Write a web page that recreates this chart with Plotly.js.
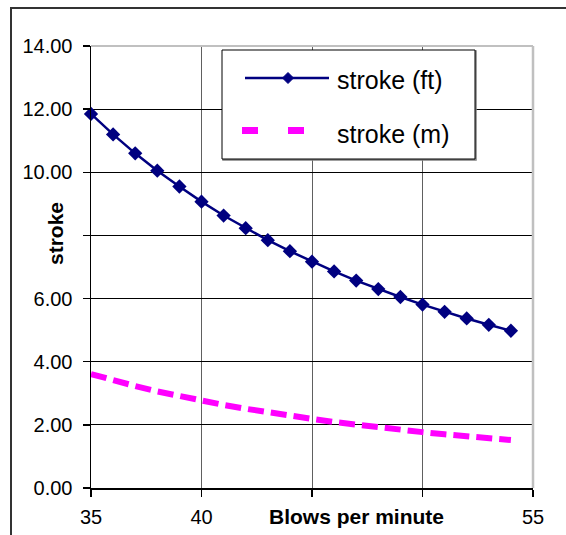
<!DOCTYPE html>
<html>
<head>
<meta charset="utf-8">
<script src="https://cdn.plot.ly/plotly-3.0.1.min.js"></script>
<style>
html,body{margin:0;padding:0;background:#fff;}
#chart{width:566px;height:535px;}
</style>
</head>
<body>
<div id="chart"></div>
<script>
// Data
const blowsPerMinute = [35,36,37,38,39,40,41,42,43,44,45,46,47,48,49,50,51,52,53,54];
const strokeFt = [11.85,11.20,10.60,10.05,9.55,9.07,8.63,8.23,7.85,7.50,7.17,6.86,6.57,6.30,6.05,5.81,5.58,5.37,5.17,4.98];
const strokeM  = [3.61,3.41,3.23,3.06,2.91,2.76,2.63,2.51,2.39,2.29,2.19,2.09,2.00,1.92,1.84,1.77,1.70,1.64,1.58,1.52];
const seriesNames = ["stroke (ft)", "stroke (m)"];
const xTickVals = [35,40,45,50,55];
const xTickText = ["35","40","","","55"];
const yTickVals = [0,2,4,6,8,10,12,14];
const yTickText = ["0.00","2.00","4.00","6.00","","10.00","12.00","14.00"];
const xTitle = "Blows per minute";
const yTitle = "stroke";

// layout geometry (pixels)
const W = 566, H = 535;
const L = 91, R = 533, T = 46, B = 488;
const pw = R - L, ph = B - T;
const px = v => (v - L) / pw;
const py = v => (B - v) / ph;

const FONT = "Liberation Sans, Arial, sans-serif";

const traces = [
  {
    x: blowsPerMinute, y: strokeFt, name: seriesNames[0], type: "scatter", mode: "lines+markers",
    line: {color: "#000080", width: 2.5},
    marker: {symbol: "diamond", size: 11, color: "#000080"},
    showlegend: false, cliponaxis: false
  },
  {
    x: blowsPerMinute, y: strokeM, name: seriesNames[1], type: "scatter", mode: "lines",
    line: {color: "#FF00FF", width: 6, dash: "16px,7px"},
    showlegend: false, cliponaxis: false
  }
];

// diamond path for legend marker
function diamond(cx, cy, r) {
  const x0 = px(cx - r), x1 = px(cx), x2 = px(cx + r);
  const yt = py(cy - r), ym = py(cy), yb = py(cy + r);
  return `M ${x0},${ym} L ${x1},${yt} L ${x2},${ym} L ${x1},${yb} Z`;
}

const shapes = [
  // outer chart border
  {type:"rect", xref:"paper", yref:"paper", x0:px(11), x1:px(620), y0:py(600), y1:py(8),
   line:{color:"#333", width:2}, layer:"below"},
  // top & right plot border in light gray
  {type:"line", xref:"paper", yref:"paper", x0:0, x1:1, y0:1, y1:1, line:{color:"#c0c0c0", width:2}},
  {type:"line", xref:"paper", yref:"paper", x0:1, x1:1, y0:0, y1:1, line:{color:"#c0c0c0", width:2.5}},
  // legend box shadow and box
  {type:"rect", xref:"paper", yref:"paper", x0:px(223), x1:px(476), y0:py(160), y1:py(51),
   line:{color:"#808080", width:1.5}, fillcolor:"#808080"},
  {type:"rect", xref:"paper", yref:"paper", x0:px(222), x1:px(475), y0:py(159), y1:py(50),
   line:{color:"#000", width:1}, fillcolor:"#fff"},
  // legend line for ft
  {type:"line", xref:"paper", yref:"paper", x0:px(245), x1:px(329), y0:py(78), y1:py(78),
   line:{color:"#000080", width:2.5}},
  {type:"path", xref:"paper", yref:"paper", path: diamond(288, 78, 5.5),
   fillcolor:"#000080", line:{color:"#000080", width:1}},
  // legend dashes for m
  {type:"rect", xref:"paper", yref:"paper", x0:px(242), x1:px(258), y0:py(134), y1:py(127),
   fillcolor:"#FF00FF", line:{width:0}},
  {type:"rect", xref:"paper", yref:"paper", x0:px(288), x1:px(304), y0:py(134), y1:py(127),
   fillcolor:"#FF00FF", line:{width:0}}
];

const annotations = [
  {text: seriesNames[0], xref:"paper", yref:"paper", x:px(335), y:py(80), xanchor:"left", yanchor:"middle",
   showarrow:false, font:{family:FONT, size:25, color:"#000"}},
  {text: seriesNames[1], xref:"paper", yref:"paper", x:px(335), y:py(134), xanchor:"left", yanchor:"middle",
   showarrow:false, font:{family:FONT, size:25, color:"#000"}},
  {text: "<b>" + xTitle + "</b>", xref:"paper", yref:"paper", x:px(356), y:py(516), xanchor:"center", yanchor:"middle",
   showarrow:false, font:{family:FONT, size:21, color:"#000"}, bgcolor:"#fff"},
  {text: "<b>" + yTitle + "</b>", xref:"paper", yref:"paper", x:px(55), y:py(234), xanchor:"center", yanchor:"middle",
   textangle:-90, showarrow:false, font:{family:FONT, size:21, color:"#000"}, bgcolor:"#fff"}
];

const layout = {
  width: W, height: H,
  margin: {l: L, r: W - R, t: T, b: H - B, pad: 0},
  paper_bgcolor: "#fff", plot_bgcolor: "rgba(0,0,0,0)",
  font: {family: FONT, size: 20, color: "#000"},
  showlegend: false,
  xaxis: {
    range: [35, 55], tickvals: xTickVals, ticktext: xTickText,
    showgrid: true, gridcolor: "#606060", gridwidth: 1,
    showline: true, linecolor: "#000", linewidth: 1.5,
    ticks: "outside", ticklen: 7, tickcolor: "#000", tickwidth: 1.5,
    ticklabelstandoff: 3,
    zeroline: false, tickfont: {family: FONT, size: 20, color: "#000"},
    fixedrange: true
  },
  yaxis: {
    range: [0, 14], tickvals: yTickVals, ticktext: yTickText,
    showgrid: true, gridcolor: "#000", gridwidth: 1,
    showline: true, linecolor: "#000", linewidth: 1.5,
    ticks: "outside", ticklen: 7, tickcolor: "#000", tickwidth: 1.5,
    ticklabelstandoff: 6,
    zeroline: false, tickfont: {family: FONT, size: 20, color: "#000"},
    fixedrange: true
  },
  shapes: shapes,
  annotations: annotations
};

Plotly.newPlot("chart", traces, layout, {displayModeBar: false, staticPlot: true});
</script>
</body>
</html>
